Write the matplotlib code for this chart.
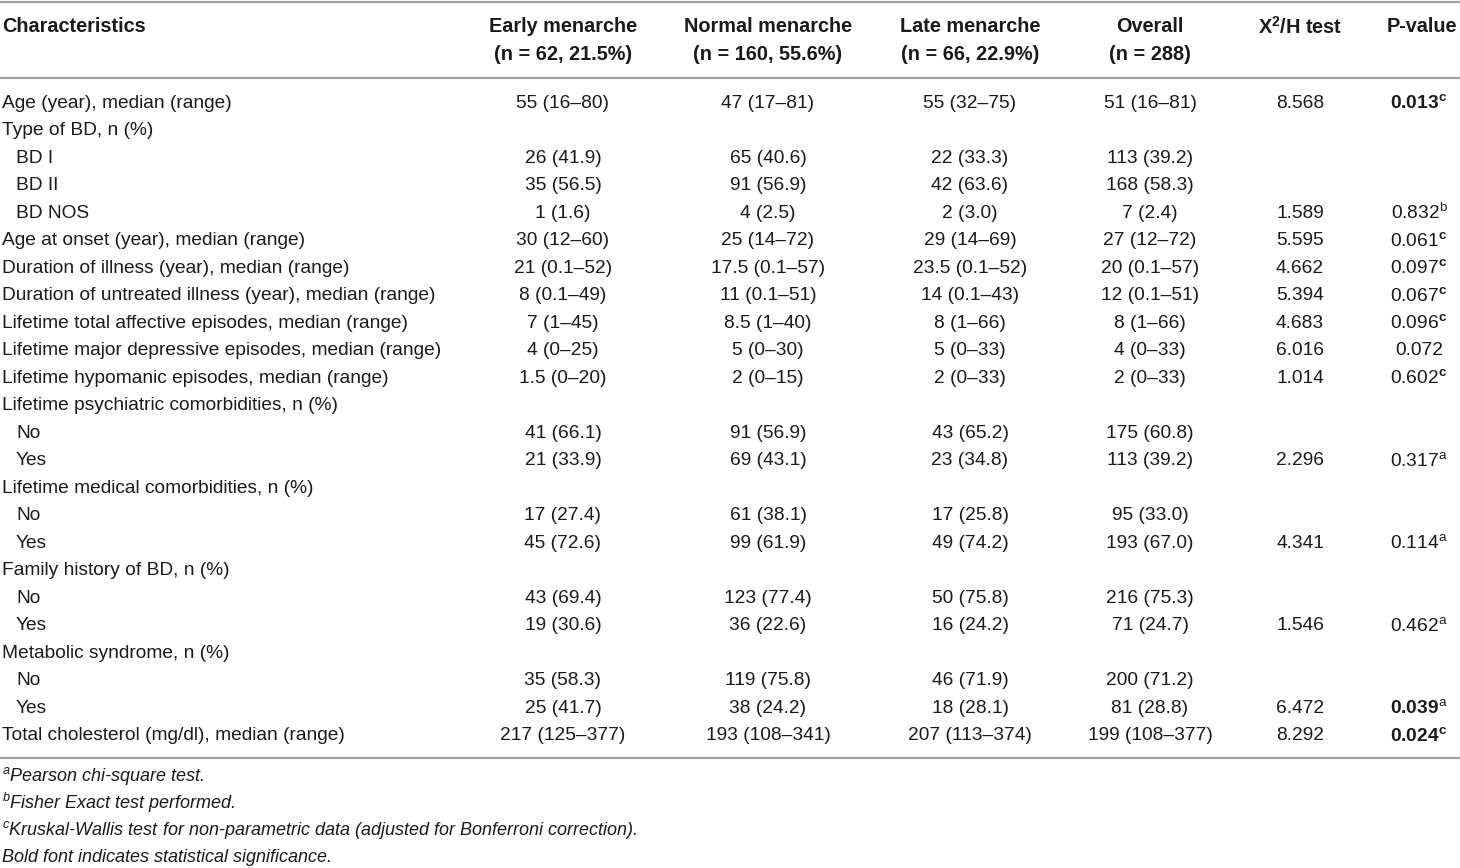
import matplotlib
matplotlib.use('Agg')
import matplotlib.pyplot as plt

plt.rcParams['font.family'] = ['Liberation Sans', 'DejaVu Sans']
plt.rcParams['mathtext.fontset'] = 'custom'
plt.rcParams['mathtext.rm'] = 'Liberation Sans'
plt.rcParams['mathtext.it'] = 'Liberation Sans:italic'
plt.rcParams['mathtext.bf'] = 'Liberation Sans:bold'

# table content
labels = ['Age (year), median (range)', 'Type of BD, n (%)', 'BD I', 'BD II', 'BD NOS',
          'Age at onset (year), median (range)', 'Duration of illness (year), median (range)',
          'Duration of untreated illness (year), median (range)',
          'Lifetime total affective episodes, median (range)',
          'Lifetime major depressive episodes, median (range)',
          'Lifetime hypomanic episodes, median (range)',
          'Lifetime psychiatric comorbidities, n (%)', 'No', 'Yes',
          'Lifetime medical comorbidities, n (%)', 'No', 'Yes',
          'Family history of BD, n (%)', 'No', 'Yes',
          'Metabolic syndrome, n (%)', 'No', 'Yes',
          'Total cholesterol (mg/dl), median (range)']
indented = [0, 0, 1, 1, 1, 0, 0, 0, 0, 0, 0, 0, 1, 1, 0, 1, 1, 0, 1, 1, 0, 1, 1, 0]
early = ['55 (16–80)', '', '26 (41.9)', '35 (56.5)', '1 (1.6)', '30 (12–60)', '21 (0.1–52)',
         '8 (0.1–49)', '7 (1–45)', '4 (0–25)', '1.5 (0–20)', '', '41 (66.1)', '21 (33.9)', '',
         '17 (27.4)', '45 (72.6)', '', '43 (69.4)', '19 (30.6)', '', '35 (58.3)', '25 (41.7)',
         '217 (125–377)']
normal = ['47 (17–81)', '', '65 (40.6)', '91 (56.9)', '4 (2.5)', '25 (14–72)', '17.5 (0.1–57)',
          '11 (0.1–51)', '8.5 (1–40)', '5 (0–30)', '2 (0–15)', '', '91 (56.9)', '69 (43.1)', '',
          '61 (38.1)', '99 (61.9)', '', '123 (77.4)', '36 (22.6)', '', '119 (75.8)', '38 (24.2)',
          '193 (108–341)']
late = ['55 (32–75)', '', '22 (33.3)', '42 (63.6)', '2 (3.0)', '29 (14–69)', '23.5 (0.1–52)',
        '14 (0.1–43)', '8 (1–66)', '5 (0–33)', '2 (0–33)', '', '43 (65.2)', '23 (34.8)', '',
        '17 (25.8)', '49 (74.2)', '', '50 (75.8)', '16 (24.2)', '', '46 (71.9)', '18 (28.1)',
        '207 (113–374)']
overall = ['51 (16–81)', '', '113 (39.2)', '168 (58.3)', '7 (2.4)', '27 (12–72)', '20 (0.1–57)',
           '12 (0.1–51)', '8 (1–66)', '4 (0–33)', '2 (0–33)', '', '175 (60.8)', '113 (39.2)', '',
           '95 (33.0)', '193 (67.0)', '', '216 (75.3)', '71 (24.7)', '', '200 (71.2)', '81 (28.8)',
           '199 (108–377)']
stat = ['8.568', '', '', '', '1.589', '5.595', '4.662', '5.394', '4.683', '6.016', '1.014',
        '', '', '2.296', '', '', '4.341', '', '', '1.546', '', '', '6.472', '8.292']
pval = ['0.013', '', '', '', '0.832', '0.061', '0.097', '0.067', '0.096', '0.072', '0.602',
        '', '', '0.317', '', '', '0.114', '', '', '0.462', '', '', '0.039', '0.024']
pnote = ['c', '', '', '', 'b', 'c', 'c', 'c', 'c', '', 'c', '', '', 'a', '', '', 'a', '', '',
         'a', '', '', 'a', 'c']
pbold = [1, 0, 0, 0, 0, 0, 0, 0, 0, 0, 0, 0, 0, 0, 0, 0, 0, 0, 0, 0, 0, 0, 1, 1]

group_heads = [('Early menarche', '(n = 62, 21.5%)'), ('Normal menarche', '(n = 160, 55.6%)'),
               ('Late menarche', '(n = 66, 22.9%)'), ('Overall', '(n = 288)')]
footnotes = [('a', 'Pearson chi-square test.'), ('b', 'Fisher Exact test performed.'),
             ('c', 'Kruskal-Wallis test for non-parametric data (adjusted for Bonferroni correction).'),
             ('', 'Bold font indicates statistical significance.')]

W, H = 1460, 868
fig = plt.figure(figsize=(W / 100, H / 100), dpi=100)
ax = fig.add_axes([0, 0, 1, 1])
ax.set_xlim(0, W)
ax.set_ylim(H, 0)
ax.axis('off')

fs = 13.8
fsb = 14.3
fsn = 13.0
col = '#1a1a1a'
line_col = '#a0a0a0'
xc = [563, 768, 970, 1150]
x_stat, x_p = 1300, 1419

def sup(s, bold=False):
    if not s:
        return ''
    return r'$^{\mathbf{%s}}$' % s if bold else r'$^{\mathrm{%s}}$' % s

# horizontal rules
for yl in [2, 78, 758]:
    ax.plot([0, W], [yl, yl], color=line_col, lw=1.6, solid_capstyle='butt')

# header
ax.text(2, 27, 'Characteristics', fontsize=fsb, fontweight='bold', color=col, va='center')
for x, (h1, h2) in zip(xc, group_heads):
    ax.text(x, 27, h1, fontsize=fsb, fontweight='bold', color=col, va='center', ha='center')
    ax.text(x, 54, h2, fontsize=fsb, fontweight='bold', color=col, va='center', ha='center')
ax.text(x_stat, 27, r'X$^{\mathbf{2}}$/H test', fontsize=fsb, fontweight='bold', color=col,
        va='center', ha='center')
ax.text(x_p + 3, 27, 'P-value', fontsize=fsb, fontweight='bold', color=col, va='center', ha='center')

# body rows
y0, dy = 103, 27.52
for i, lab in enumerate(labels):
    y = y0 + i * dy
    ax.text(2 + 14 * indented[i], y, lab, fontsize=fs, color=col, va='center')
    for x, vals in zip(xc, [early, normal, late, overall]):
        ax.text(x, y, vals[i], fontsize=fs, color=col, va='center', ha='center')
    ax.text(x_stat, y, stat[i], fontsize=fs, color=col, va='center', ha='center')
    if pval[i]:
        txt = pval[i] + sup(pnote[i], pnote[i] == 'c')
        ax.text(x_p, y, txt, fontsize=fs, color=col, va='center', ha='center',
                fontweight='bold' if pbold[i] else 'normal')

# footnotes
for j, (s, t) in enumerate(footnotes):
    y = 776 + j * 27
    txt = (r'$^{\mathit{%s}}$' % s if s else '') + t
    ax.text(2, y, txt, fontsize=fsn, color=col, va='center', style='italic')

fig.savefig('out.png', dpi=100)
